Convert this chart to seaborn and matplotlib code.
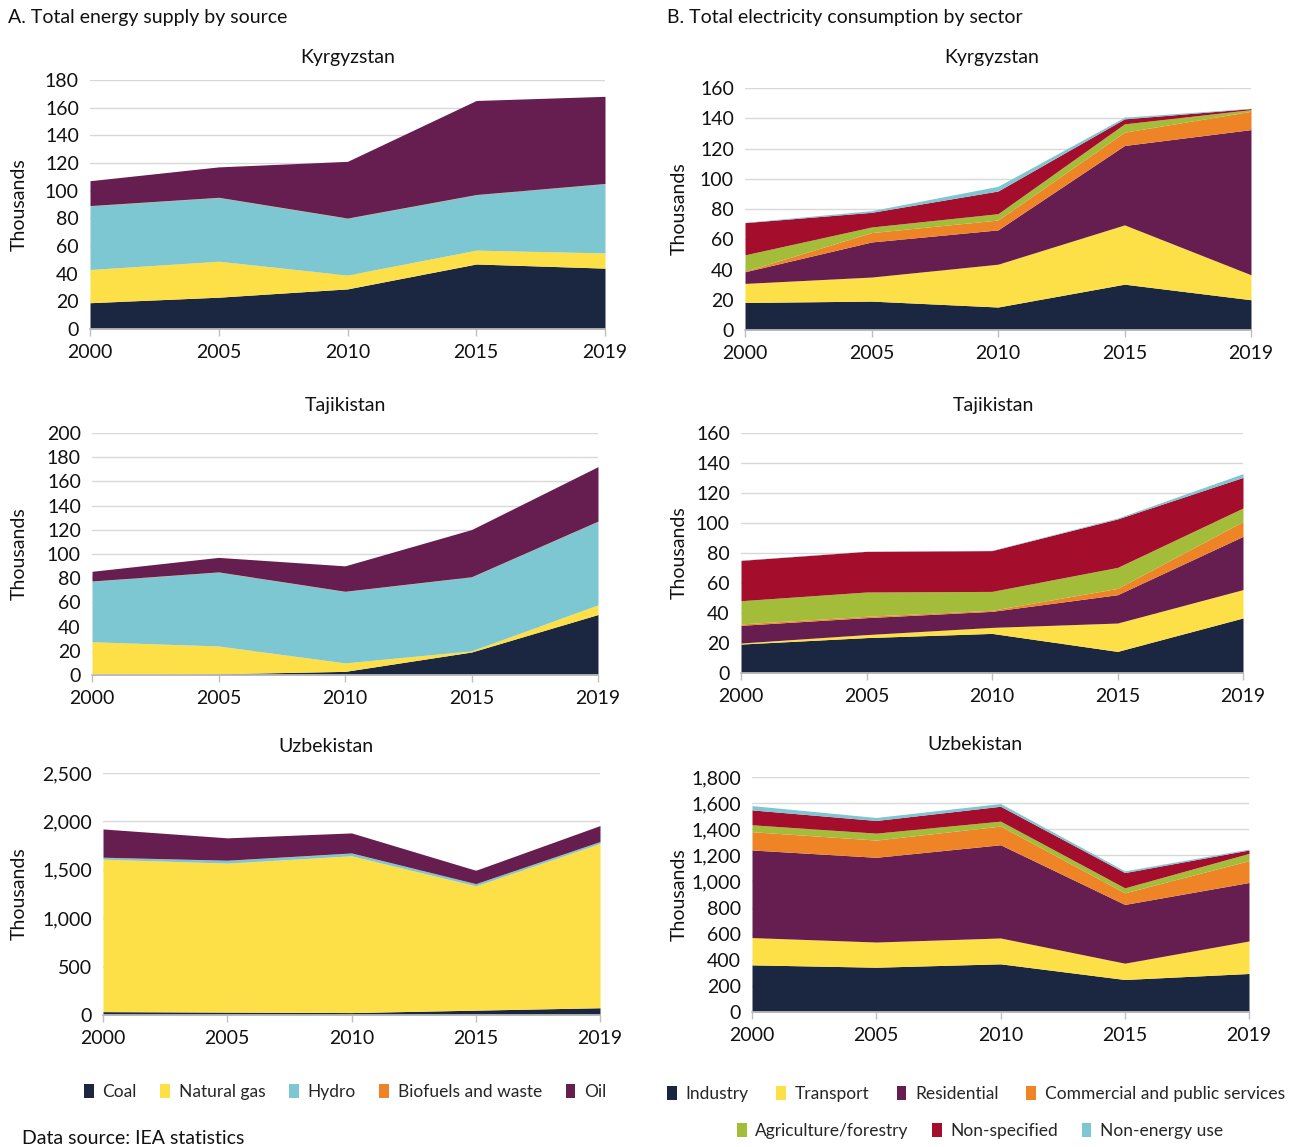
import numpy as np
import matplotlib
matplotlib.use("Agg")
import matplotlib.pyplot as plt
import matplotlib.ticker as mticker
from matplotlib.patches import Patch
import seaborn as sns

# ---- data (thousands) ----
years = ["2000", "2005", "2010", "2015", "2019"]

supply_names = ["Coal", "Natural gas", "Hydro", "Biofuels and waste", "Oil"]
sector_names = ["Industry", "Transport", "Residential", "Commercial and public services",
                "Agriculture/forestry", "Non-specified", "Non-energy use"]

# A. total energy supply by source
kgz_supply = [
    [19, 23, 29, 47, 44],      # coal
    [24, 26, 10, 10, 11],      # natural gas
    [46, 46, 41, 40, 50],      # hydro
    [0.2, 0.2, 0.2, 0.2, 0.2],  # biofuels and waste
    [18, 22, 41, 68, 63],      # oil
]
tjk_supply = [
    [0.5, 1, 3, 19, 50],
    [27, 23, 7, 1, 8],
    [50, 61, 59, 61, 69],
    [0.2, 0.2, 0.2, 0.2, 0.2],
    [8, 12, 21, 39, 45],
]
uzb_supply = [
    [35, 30, 25, 50, 75],
    [1575, 1539, 1620, 1284, 1697],
    [18, 28, 27, 21, 18],
    [2, 2, 2, 2, 2],
    [292, 231, 207, 138, 165],
]

# B. total electricity consumption by sector
kgz_sector = [
    [18.2, 19.1, 15.2, 30.3, 20.0],   # industry
    [12.6, 15.9, 28.3, 39.2, 16.5],   # transport
    [7.7, 23.2, 22.7, 52.5, 96.0],    # residential
    [0.4, 6.2, 6.5, 8.8, 12.1],       # commercial and public services
    [10.8, 3.7, 4.2, 5.5, 1.1],       # agriculture/forestry
    [21.3, 9.7, 15.0, 3.3, 0.7],      # non-specified
    [0.2, 1.1, 3.1, 1.1, 0.2],        # non-energy use
]
tjk_sector = [
    [19.3, 23.6, 26.4, 14.4, 36.7],
    [0.7, 2.0, 4.0, 18.9, 18.9],
    [11.8, 11.3, 10.7, 18.9, 35.5],
    [0.9, 0.9, 0.7, 4.2, 9.9],
    [15.5, 16.2, 12.6, 14.0, 9.0],
    [26.9, 27.1, 27.2, 32.3, 20.4],
    [0.2, 0.1, 0.2, 0.6, 2.5],
]
uzb_sector = [
    [361, 343, 369, 249, 295],
    [209, 193, 198, 125, 249],
    [671, 649, 714, 450, 448],
    [140, 132, 143, 89, 167],
    [53, 53, 38, 38, 56],
    [114, 97, 114, 117, 26],
    [33, 23, 21, 13, 7],
]

NAVY, YELLOW, TEAL, ORANGE, PURPLE = "#1b2641", "#fde047", "#7cc7d1", "#ef8427", "#661e50"
GREEN, CRIMSON = "#a3bd3b", "#a50d2c"
supply_colors = [NAVY, YELLOW, TEAL, ORANGE, PURPLE]
sector_colors = [NAVY, YELLOW, PURPLE, ORANGE, GREEN, CRIMSON, TEAL]

sns.set_theme(style="white")
plt.rcParams["font.family"] = ["Lato", "DejaVu Sans"]
FS = 14      # ticks, titles
LFS = 12.5   # legend

W, H = 1292, 1147
fig = plt.figure(figsize=(W / 100, H / 100), dpi=100)


def add_axes(x0, x1, ytop, ybot):
    return fig.add_axes([x0 / W, 1 - ybot / H, (x1 - x0) / W, (ybot - ytop) / H])


def ftext(x, y, s, **kw):
    fig.text(x / W, 1 - y / H, s, fontsize=FS, va="center", color="#111111", **kw)


def draw(box, series, colors, ymax, step, title, tx, ty, label_x):
    x0, x1, ytop, ybot = box
    ax = add_axes(x0, x1, ytop, ybot)
    ax.stackplot(range(len(years)), *series, colors=colors, linewidth=0)
    ax.set_xlim(0, len(years) - 1)
    ax.set_ylim(0, ymax)
    ax.set_xticks(range(len(years)))
    ax.set_xticklabels(years)
    ax.set_yticks(np.arange(0, ymax + 1, step))
    ax.yaxis.set_major_formatter(mticker.FuncFormatter(lambda v, p: f"{v:,.0f}"))
    ax.yaxis.grid(True, color="#d9d9d9", lw=1)
    ax.set_axisbelow(True)
    sns.despine(ax=ax, left=True)
    ax.spines["bottom"].set_color("#bfbfbf")
    ax.tick_params(axis="y", length=0, pad=8, labelsize=FS, labelcolor="#111111")
    ax.tick_params(axis="x", length=5, width=1, color="#bfbfbf", pad=6,
                   labelsize=FS, labelcolor="#111111", bottom=True)
    ax.set_ylabel("Thousands", fontsize=FS, color="#111111")
    ax.yaxis.set_label_coords((label_x - x0) / (x1 - x0), 0.5)
    ftext(tx, ty, title, ha="center")
    return ax


draw((90, 605, 80, 329), kgz_supply, supply_colors, 180, 20, "Kyrgyzstan", 348, 57, 28)
draw((92, 598, 433, 675), tjk_supply, supply_colors, 200, 20, "Tajikistan", 345, 405, 28)
draw((103, 600, 773, 1015), uzb_supply, supply_colors, 2500, 500, "Uzbekistan", 326, 746, 28)

draw((745, 1251, 88, 330), kgz_sector, sector_colors, 160, 20, "Kyrgyzstan", 992, 57, 688)
draw((741, 1243, 433, 673), tjk_sector, sector_colors, 160, 20, "Tajikistan", 993, 405, 688)
draw((752, 1249, 777, 1012), uzb_sector, sector_colors, 1800, 200, "Uzbekistan", 975, 745, 688)

ftext(8, 18, "A. Total energy supply by source", ha="left")
ftext(667, 18, "B. Total electricity consumption by sector", ha="left")
ftext(22, 1138, "Data source: IEA statistics", ha="left")

leg_kw = dict(frameon=False, fontsize=LFS, handlelength=0.55, handleheight=0.9,
              handletextpad=0.5, borderaxespad=0, loc="center")


def handles(names, colors):
    return [Patch(facecolor=c, edgecolor="none", label=n) for n, c in zip(names, colors)]


fig.legend(handles=handles(supply_names, supply_colors), ncol=5, columnspacing=1.37,
           bbox_to_anchor=(345 / W, 1 - 1092 / H), **leg_kw)
fig.legend(handles=handles(sector_names[:4], sector_colors[:4]), ncol=4, columnspacing=1.6,
           bbox_to_anchor=(976 / W, 1 - 1094 / H), **leg_kw)
fig.legend(handles=handles(sector_names[4:], sector_colors[4:]), ncol=3, columnspacing=1.35,
           bbox_to_anchor=(980 / W, 1 - 1131 / H), **leg_kw)

fig.savefig("out.png", dpi=100)
